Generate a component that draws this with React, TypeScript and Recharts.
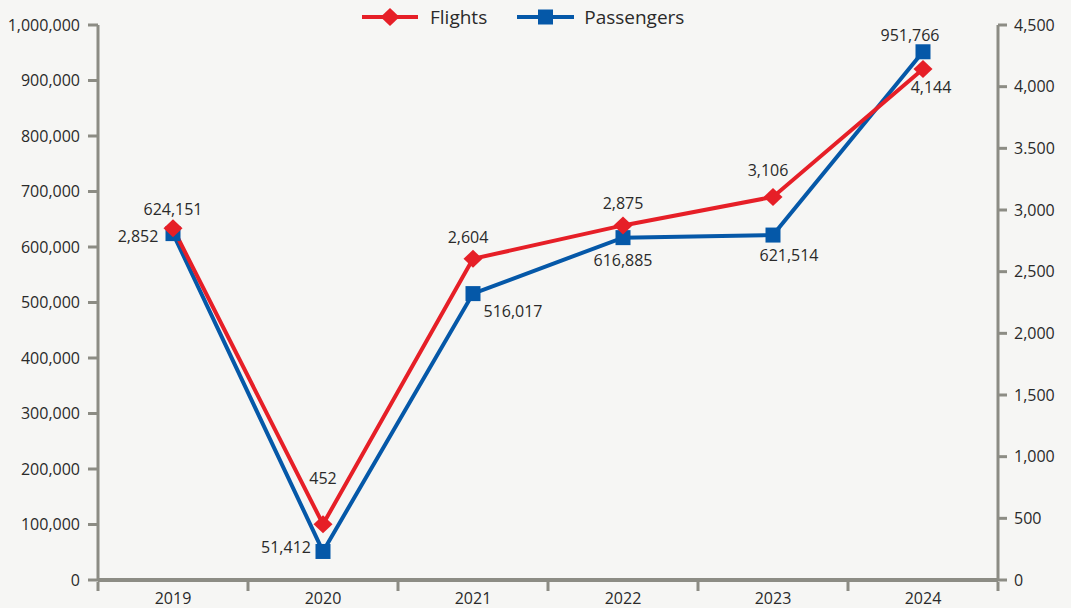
import { ComposedChart, Line, XAxis, YAxis, Legend, LabelList } from 'recharts'

const years = ['2019', '2020', '2021', '2022', '2023', '2024']
const flights = [2852, 452, 2604, 2875, 3106, 4144]
const passengers = [624151, 51412, 516017, 616885, 621514, 951766]

const passengerTicks = [0, 100000, 200000, 300000, 400000, 500000, 600000, 700000, 800000, 900000, 1000000]
const flightTicks = [0, 500, 1000, 1500, 2000, 2500, 3000, 3500, 4000, 4500]
const flightTickLabels = ['0', '500', '1,000', '1,500', '2,000', '2,500', '3,000', '3.500', '4,000', '4,500']

// where each value label sits relative to its marker (dx, dy)
const flightLabelOffsets = [[-35, 8], [0, -46], [-5, -22], [0, -22], [-5, -27], [8, 18]]
const passengerLabelOffsets = [[0, -25], [-37, -4], [40, 17], [0, 22], [16, 20], [-13, -17]]

const data = years.map((year, i) => ({ year, flights: flights[i], passengers: passengers[i] }))

const W = 1071
const H = 608
const LEFT_W = 98
const RIGHT_W = 73
const HALF_BAND = (W - LEFT_W - RIGHT_W) / years.length / 2

const RED = '#e61f27'
const BLUE = '#0558a8'
const AXIS = '#8c8c84'
const TEXT = '#2a2a2a'
const FONT = "'Open Sans', sans-serif"

const fmt = (v: number) => v.toLocaleString('en-US')

function DiamondDot(props: any) {
  const { cx, cy } = props
  if (cx == null || cy == null) return null
  return (
    <polygon
      points={`${cx},${cy - 9} ${cx + 9.5},${cy} ${cx},${cy + 9} ${cx - 9.5},${cy}`}
      fill={RED}
    />
  )
}

function SquareDot(props: any) {
  const { cx, cy } = props
  if (cx == null || cy == null) return null
  return <rect x={cx - 7.5} y={cy - 7.5} width={15} height={15} fill={BLUE} />
}

function makeLabel(offsets: number[][]) {
  return (props: any) => {
    const { x, y, value, index } = props
    const [dx, dy] = offsets[index] ?? [0, -20]
    return (
      <text
        x={x + dx}
        y={y + dy}
        textAnchor="middle"
        dominantBaseline="central"
        fontSize={16}
        fill={TEXT}
        fontFamily={FONT}
      >
        {fmt(Number(value))}
      </text>
    )
  }
}

function YearTick(props: any) {
  const { x, y, payload, index } = props
  return (
    <g>
      <line x1={x - HALF_BAND} x2={x - HALF_BAND} y1={y} y2={y + 9} stroke={AXIS} strokeWidth={3} />
      {index === years.length - 1 && (
        <line x1={x + HALF_BAND} x2={x + HALF_BAND} y1={y} y2={y + 9} stroke={AXIS} strokeWidth={3} />
      )}
      <text x={x} y={y + 16} textAnchor="middle" dominantBaseline="central" fontSize={16} fill={TEXT} fontFamily={FONT}>
        {payload.value}
      </text>
    </g>
  )
}

function ChartLegend() {
  return (
    <div
      style={{
        height: 25,
        display: 'flex',
        alignItems: 'center',
        paddingLeft: 362,
        position: 'relative',
        top: 4,
        fontFamily: FONT,
        fontSize: 19,
        color: TEXT,
      }}
    >
      <svg width={56} height={20}>
        <line x1={0} x2={56} y1={10} y2={10} stroke={RED} strokeWidth={4} />
        <polygon points="28,1 37.5,10 28,19 18.5,10" fill={RED} />
      </svg>
      <span style={{ marginLeft: 12, marginRight: 30 }}>Flights</span>
      <svg width={57} height={20}>
        <line x1={0} x2={57} y1={10} y2={10} stroke={BLUE} strokeWidth={4} />
        <rect x={21} y={2.5} width={15} height={15} fill={BLUE} />
      </svg>
      <span style={{ marginLeft: 10 }}>Passengers</span>
    </div>
  )
}

export default function App() {
  return (
    <div
      style={{
        position: 'absolute',
        left: 0,
        top: 0,
        width: W,
        height: H,
        background: '#f6f6f4',
        fontFamily: FONT,
      }}
    >
      <ComposedChart width={W} height={H} data={data} margin={{ top: 0, right: 0, bottom: 0, left: 0 }}>
        <Legend verticalAlign="top" align="left" content={<ChartLegend />} wrapperStyle={{ left: 0, top: 0, width: W, height: 25 }} />
        <XAxis
          dataKey="year"
          height={28}
          padding={{ left: HALF_BAND, right: HALF_BAND }}
          axisLine={{ stroke: AXIS, strokeWidth: 4 }}
          tickLine={false}
          tickSize={0}
          tick={<YearTick />}
          interval={0}
        />
        <YAxis
          yAxisId="left"
          width={LEFT_W}
          domain={[0, 1000000]}
          ticks={passengerTicks}
          tickFormatter={fmt}
          axisLine={{ stroke: AXIS, strokeWidth: 3 }}
          tickLine={{ stroke: AXIS, strokeWidth: 3 }}
          tickSize={10}
          tickMargin={8}
          tick={{ fill: TEXT, fontSize: 16 }}
          interval={0}
        />
        <YAxis
          yAxisId="right"
          orientation="right"
          width={RIGHT_W}
          domain={[0, 4500]}
          ticks={flightTicks}
          tickFormatter={(v: number, i: number) => flightTickLabels[i] ?? fmt(v)}
          axisLine={{ stroke: AXIS, strokeWidth: 3 }}
          tickLine={{ stroke: AXIS, strokeWidth: 3 }}
          tickSize={9}
          tickMargin={7}
          tick={{ fill: TEXT, fontSize: 16 }}
          interval={0}
        />
        <Line
          yAxisId="left"
          dataKey="passengers"
          type="linear"
          stroke={BLUE}
          strokeWidth={4}
          dot={<SquareDot />}
          activeDot={false}
          isAnimationActive={false}
        >
          <LabelList dataKey="passengers" content={makeLabel(passengerLabelOffsets)} />
        </Line>
        <Line
          yAxisId="right"
          dataKey="flights"
          type="linear"
          stroke={RED}
          strokeWidth={4}
          dot={<DiamondDot />}
          activeDot={false}
          isAnimationActive={false}
        >
          <LabelList dataKey="flights" content={makeLabel(flightLabelOffsets)} />
        </Line>
      </ComposedChart>
    </div>
  )
}
